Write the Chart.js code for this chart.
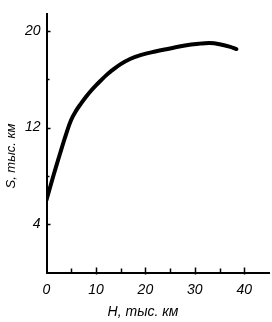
<!DOCTYPE html>
<html>
<head>
<meta charset="utf-8">
<script src="https://cdn.jsdelivr.net/npm/chart.js@4/dist/chart.umd.min.js"></script>
<style>
html,body{margin:0;padding:0;background:#fff;}
canvas{display:block;}
</style>
</head>
<body>
<canvas id="c" width="272" height="322"></canvas>
<script>
// Data
const heightH = [0, 1, 2, 3, 4, 5, 6, 7, 8, 9, 10, 11, 12, 13, 15, 17, 19, 22, 25, 28, 31, 33, 35, 37, 38.4];
const rangeS  = [6.0, 7.45, 8.85, 10.2, 11.5, 12.65, 13.4, 14.0, 14.55, 15.05, 15.5, 15.9, 16.3, 16.65, 17.25, 17.7, 18.0, 18.3, 18.55, 18.8, 18.95, 19.0, 18.9, 18.7, 18.5];
const xTickLabels = [0, 10, 20, 30, 40];
const xMinorTicks = [5, 15, 25, 35];
const yTickLabels = [4, 12, 20];
const yMinorTicks = [8, 16];
const xTitle = 'H, тыс. км';
const yTitle = 'S, тыс. км';

const FONT = '"Liberation Sans", Arial, sans-serif';

const inwardTicks = {
  id: 'inwardTicks',
  afterDraw(chart) {
    const ctx = chart.ctx;
    const xs = chart.scales.x, ys = chart.scales.y;
    const y0 = ys.getPixelForValue(0);
    const x0 = xs.getPixelForValue(0);
    ctx.save();
    ctx.strokeStyle = '#000';
    ctx.lineWidth = 1.5;
    ctx.beginPath();
    xTickLabels.forEach(v => { if (v === 0) return; const px = Math.round(xs.getPixelForValue(v)) + 0.5; ctx.moveTo(px, y0 - 5); ctx.lineTo(px, y0 + 2); });
    xMinorTicks.forEach(v => { const px = Math.round(xs.getPixelForValue(v)) + 0.5; ctx.moveTo(px, y0 - 4); ctx.lineTo(px, y0); });
    yTickLabels.forEach(v => { const py = Math.round(ys.getPixelForValue(v)) + 0.5; ctx.moveTo(x0, py); ctx.lineTo(x0 + 4, py); });
    yMinorTicks.forEach(v => { const py = Math.round(ys.getPixelForValue(v)) + 0.5; ctx.moveTo(x0, py); ctx.lineTo(x0 + 3, py); });
    ctx.stroke();
    // titles
    ctx.fillStyle = '#000';
    ctx.font = 'italic 14px ' + FONT;
    ctx.textAlign = 'center';
    ctx.textBaseline = 'middle';
    ctx.fillText(xTitle, 143, 312);
    ctx.translate(11, 156);
    ctx.rotate(-Math.PI / 2);
    ctx.font = 'italic 13px ' + FONT;
    ctx.fillText(yTitle, 0, 0);
    ctx.restore();
  }
};

new Chart(document.getElementById('c'), {
  type: 'line',
  data: {
    datasets: [{
      data: heightH.map((h, i) => ({ x: h, y: rangeS[i] })),
      borderColor: '#000',
      borderWidth: 4,
      borderCapStyle: 'round',
      borderJoinStyle: 'round',
      pointRadius: 0,
      tension: 0.4,
      fill: false
    }]
  },
  options: {
    responsive: false,
    animation: false,
    devicePixelRatio: 1,
    layout: { padding: { top: 8, right: 3, left: 0, bottom: 0 } },
    plugins: { legend: { display: false }, tooltip: { enabled: false } },
    scales: {
      x: {
        type: 'linear', min: 0, max: 45,
        grid: { display: false, drawTicks: false },
        border: { display: true, color: '#000', width: 2 },
        afterBuildTicks: s => { s.ticks = xTickLabels.map(v => ({ value: v })); },
        afterFit: s => { s.height = 49.5; },
        ticks: { color: '#000', padding: 9, font: { family: FONT, size: 14, style: 'italic' } }
      },
      y: {
        type: 'linear', min: 0, max: 21.37,
        grid: { display: false, drawTicks: false },
        border: { display: true, color: '#000', width: 2 },
        afterBuildTicks: s => { s.ticks = yTickLabels.map(v => ({ value: v })); },
        afterFit: s => { s.width = 46.5; },
        ticks: { color: '#000', padding: 6, font: { family: FONT, size: 14, style: 'italic' } }
      }
    }
  },
  plugins: [inwardTicks]
});
</script>
</body>
</html>
